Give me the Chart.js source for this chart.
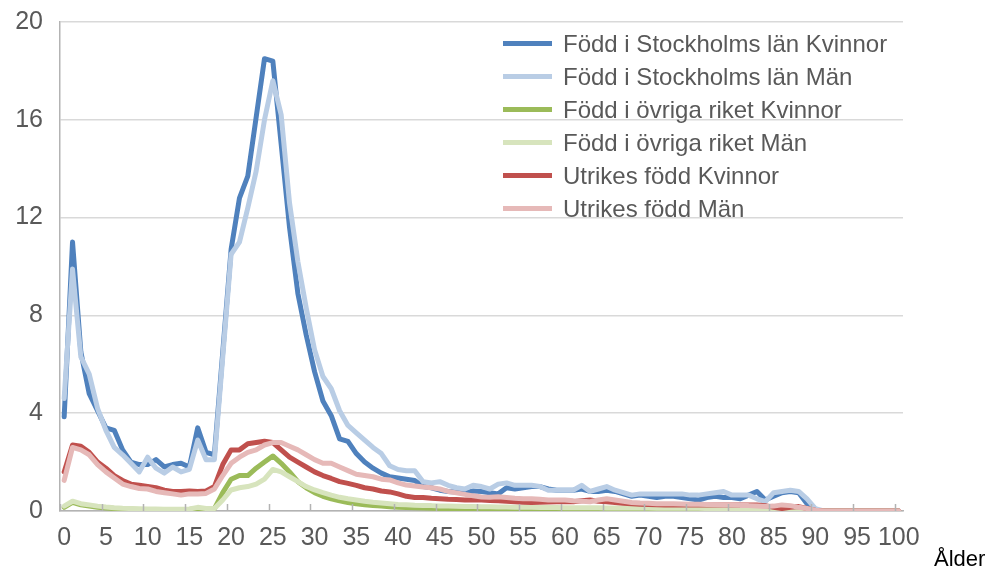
<!DOCTYPE html>
<html>
<head>
<meta charset="utf-8">
<script src="https://cdn.jsdelivr.net/npm/chart.js@4"></script>
<style>
    body { margin: 0; background: #fff; font-family: "Liberation Sans", Arial, sans-serif; }
    #wrap { position: relative; width: 987px; height: 570px; }
    #legend { position: absolute; left: 503px; top: 27px; color: #595959; font-size: 24px; }
    #legend .row { height: 33px; display: flex; align-items: center; }
    #legend .swatch { width: 49px; height: 5px; margin-right: 11px; }
    #xtitle { position: absolute; left: 934px; top: 546px; color: #000; font-size: 22px; }
</style>
</head>
<body>
<div id="wrap">
    <canvas id="chart" width="987" height="570"></canvas>
    <div id="legend"></div>
    <div id="xtitle">Ålder</div>
</div>
<script>
// Ålder 0-100
const ages = Array.from({ length: 101 }, (_, i) => String(i));
const yTicks = [0, 4, 8, 12, 16, 20];

const seriesNames = [
    'Född i Stockholms län Kvinnor',
    'Född i Stockholms län Män',
    'Född i övriga riket Kvinnor',
    'Född i övriga riket Män',
    'Utrikes född Kvinnor',
    'Utrikes född Män'
];
const seriesColors = ['#4f81bd', '#b9cde5', '#9bbb59', '#d7e4bd', '#c0504d', '#e6b9b8'];

const stockholmKvinnor = [
    3.85, 11.0, 6.5, 4.8, 4.1, 3.4, 3.3, 2.5, 2.0, 1.9,
    1.9, 2.1, 1.8, 1.9, 1.95, 1.8, 3.4, 2.4, 2.3, 6.5,
    10.7, 12.8, 13.7, 16.1, 18.5, 18.4, 15.0, 11.6, 8.9, 7.2,
    5.7, 4.5, 3.9, 2.95, 2.85, 2.35, 2.0, 1.75, 1.55, 1.4,
    1.35, 1.3, 1.25, 1.0, 0.95, 0.85, 0.8, 0.78, 0.75, 0.82,
    0.8, 0.75, 0.7, 0.95, 0.9, 0.95, 1.0, 1.0, 0.9, 0.85,
    0.85, 0.85, 0.9, 0.8, 0.8, 0.85, 0.8, 0.7, 0.6, 0.65,
    0.6, 0.55, 0.6, 0.6, 0.55, 0.5, 0.45, 0.55, 0.6, 0.55,
    0.55, 0.5, 0.65, 0.8, 0.45, 0.6, 0.75, 0.8, 0.75, 0.3,
    0, 0, 0, 0, 0, 0, 0, 0, 0, 0, 0
];
const stockholmMan = [
    4.6, 9.9, 6.3, 5.6, 4.2, 3.3, 2.6, 2.3, 1.95, 1.6,
    2.2, 1.75, 1.55, 1.8, 1.6, 1.7, 2.9, 2.1, 2.1, 6.3,
    10.5, 11.0, 12.4, 13.9, 16.0, 17.6, 16.2, 12.6, 10.2, 8.3,
    6.6, 5.5, 5.0, 4.1, 3.5, 3.2, 2.9, 2.6, 2.35, 1.85,
    1.7, 1.65, 1.65, 1.2, 1.15, 1.2, 1.05, 0.95, 0.9, 1.05,
    1.0, 0.9, 1.1, 1.15, 1.05, 1.05, 1.05, 1.0, 0.85, 0.85,
    0.85, 0.85, 1.05, 0.8, 0.9, 1.0, 0.85, 0.75, 0.65, 0.7,
    0.7, 0.7, 0.7, 0.7, 0.7, 0.65, 0.65, 0.7, 0.75, 0.8,
    0.65, 0.65, 0.65, 0.5, 0.38, 0.75, 0.8, 0.85, 0.8, 0.5,
    0.1, 0, 0, 0, 0, 0, 0, 0, 0, 0, 0
];
const ovrigaKvinnor = [
    0.15, 0.35, 0.25, 0.2, 0.15, 0.12, 0.1, 0.08, 0.07, 0.06,
    0.06, 0.05, 0.05, 0.05, 0.05, 0.06, 0.1, 0.08, 0.1, 0.75,
    1.3, 1.45, 1.45, 1.75, 2.0, 2.25, 1.95, 1.6, 1.2, 0.95,
    0.75, 0.6, 0.5, 0.42, 0.35, 0.3, 0.26, 0.22, 0.2, 0.17,
    0.15, 0.14, 0.13, 0.12, 0.11, 0.1, 0.09, 0.08, 0.08, 0.07,
    0.07, 0.06, 0.06, 0.06, 0.06, 0.06, 0.06, 0.06, 0.06, 0.06,
    0.06, 0.05, 0.05, 0.05, 0.05, 0.05, 0.05, 0.05, 0.05, 0.05,
    0.05, 0.05, 0.05, 0.05, 0.05, 0.05, 0.05, 0.05, 0.05, 0.05,
    0.05, 0.05, 0.05, 0.05, 0.05, 0.05, 0.04, 0.04, 0.04, 0.04,
    0, 0, 0, 0, 0, 0, 0, 0, 0, 0, 0
];
const ovrigaMan = [
    0.2, 0.4, 0.3, 0.25, 0.2, 0.16, 0.13, 0.11, 0.1, 0.09,
    0.08, 0.08, 0.07, 0.07, 0.07, 0.08, 0.15, 0.1, 0.1, 0.45,
    0.86, 0.95, 1.0, 1.1, 1.3, 1.7, 1.6, 1.4, 1.2, 1.0,
    0.86, 0.75, 0.65, 0.56, 0.5, 0.45, 0.4, 0.36, 0.33, 0.3,
    0.27, 0.26, 0.24, 0.23, 0.22, 0.2, 0.2, 0.19, 0.18, 0.18,
    0.17, 0.17, 0.16, 0.16, 0.15, 0.15, 0.15, 0.14, 0.14, 0.14,
    0.13, 0.13, 0.13, 0.13, 0.13, 0.12, 0.12, 0.12, 0.12, 0.12,
    0.12, 0.11, 0.11, 0.11, 0.11, 0.11, 0.11, 0.1, 0.1, 0.1,
    0.1, 0.1, 0.1, 0.1, 0.1, 0.1, 0.1, 0.09, 0.08, 0.05,
    0, 0, 0, 0, 0, 0, 0, 0, 0, 0, 0
];
const utrikesKvinnor = [
    1.6, 2.7, 2.65, 2.4, 2.0, 1.75, 1.45, 1.25, 1.1, 1.05,
    1.0, 0.95, 0.85, 0.8, 0.8, 0.82, 0.8, 0.82, 1.0, 1.9,
    2.5, 2.5, 2.75, 2.8, 2.85, 2.8, 2.5, 2.2, 2.0, 1.8,
    1.6, 1.45, 1.33, 1.2, 1.13, 1.05, 0.95, 0.9, 0.82, 0.78,
    0.7, 0.6, 0.55, 0.55, 0.52, 0.5, 0.48, 0.47, 0.45, 0.45,
    0.45, 0.43, 0.42, 0.4, 0.38, 0.36, 0.35, 0.36, 0.37, 0.38,
    0.38, 0.38, 0.42, 0.45, 0.4, 0.38, 0.35, 0.32, 0.3, 0.28,
    0.27, 0.26, 0.25, 0.25, 0.25, 0.25, 0.25, 0.25, 0.25, 0.25,
    0.25, 0.25, 0.25, 0.25, 0.22, 0.15, 0.1, 0.15, 0.18, 0.1,
    0.03, 0, 0, 0, 0, 0, 0, 0, 0, 0, 0
];
const utrikesMan = [
    1.25, 2.6, 2.5, 2.3, 1.9, 1.6, 1.35, 1.1, 1.0, 0.92,
    0.9, 0.8, 0.75, 0.7, 0.65, 0.7, 0.7, 0.72, 0.9, 1.45,
    1.95, 2.2, 2.4, 2.5, 2.7, 2.8, 2.8, 2.65, 2.5, 2.3,
    2.1, 1.95, 1.95, 1.8, 1.65, 1.5, 1.45, 1.4, 1.3, 1.27,
    1.15, 1.06, 1.02, 0.98, 0.95, 0.9, 0.8, 0.74, 0.68, 0.62,
    0.57, 0.56, 0.58, 0.55, 0.52, 0.5, 0.5, 0.48, 0.45, 0.45,
    0.45, 0.42, 0.4, 0.38, 0.45, 0.5, 0.45, 0.4, 0.35, 0.33,
    0.32, 0.3, 0.3, 0.3, 0.29, 0.28, 0.28, 0.27, 0.26, 0.25,
    0.25, 0.23, 0.22, 0.2, 0.18, 0.2, 0.25, 0.22, 0.15, 0.1,
    0.03, 0, 0, 0, 0, 0, 0, 0, 0, 0, 0
];
const seriesValues = [stockholmKvinnor, stockholmMan, ovrigaKvinnor, ovrigaMan, utrikesKvinnor, utrikesMan];

const axisColor = '#b3b3b3';
const gridColor = '#d9d9d9';
const textColor = '#595959';
const font = { family: '"Liberation Sans", Arial, sans-serif', size: 25 };

// korta streck inåt vid var femte ålder (som i Excel)
const innerTicks = {
    id: 'innerTicks',
    afterDraw(chart) {
        const x = chart.scales.x;
        const ctx = chart.ctx;
        const half = (x.getPixelForValue(1) - x.getPixelForValue(0)) / 2;
        ctx.save();
        ctx.strokeStyle = axisColor;
        ctx.lineWidth = 1.5;
        for (let i = 0; i <= 100; i += 5) {
            const px = Math.round(x.getPixelForValue(i) - half) + 0.5;
            ctx.beginPath();
            ctx.moveTo(px, x.top - 7);
            ctx.lineTo(px, x.top);
            ctx.stroke();
        }
        ctx.restore();
    }
};

const datasets = seriesNames.map((name, i) => ({
    label: name,
    data: seriesValues[i],
    borderColor: seriesColors[i],
    backgroundColor: seriesColors[i],
    borderWidth: 5,
    borderJoinStyle: 'round',
    borderCapStyle: 'round',
    pointRadius: 0,
    tension: 0,
    order: seriesNames.length - i
}));

new Chart(document.getElementById('chart'), {
    type: 'line',
    data: { labels: ages, datasets: datasets },
    options: {
        responsive: false,
        animation: false,
        layout: { padding: { left: 0, right: 84, top: 22, bottom: 0 } },
        plugins: { legend: { display: false }, tooltip: { enabled: false } },
        scales: {
            x: {
                type: 'category',
                offset: true,
                afterFit: s => { s.height = 59; s.paddingLeft = 0; s.paddingRight = 0; },
                grid: { display: false, drawTicks: false },
                border: { color: axisColor, width: 1.5 },
                ticks: {
                    autoSkip: false,
                    maxRotation: 0,
                    minRotation: 0,
                    padding: 12,
                    color: textColor,
                    font: font,
                    callback: (v, i) => (i % 5 === 0 ? ages[i] : '')
                }
            },
            y: {
                min: 0,
                max: 20,
                afterFit: s => { s.width = 60; s.paddingTop = 0; s.paddingBottom = 0; },
                afterBuildTicks: s => { s.ticks = yTicks.map(v => ({ value: v })); },
                grid: { color: gridColor, lineWidth: 1.5, drawTicks: false },
                border: { color: axisColor, width: 1.5 },
                ticks: { padding: 17, color: textColor, font: font }
            }
        }
    },
    plugins: [innerTicks]
});

// förklaring i diagrammets övre högra hörn
const legend = document.getElementById('legend');
seriesNames.forEach((name, i) => {
    const row = document.createElement('div');
    row.className = 'row';
    row.innerHTML = '<span class="swatch" style="background:' + seriesColors[i] + '"></span><span>' + name + '</span>';
    legend.appendChild(row);
});
</script>
</body>
</html>
